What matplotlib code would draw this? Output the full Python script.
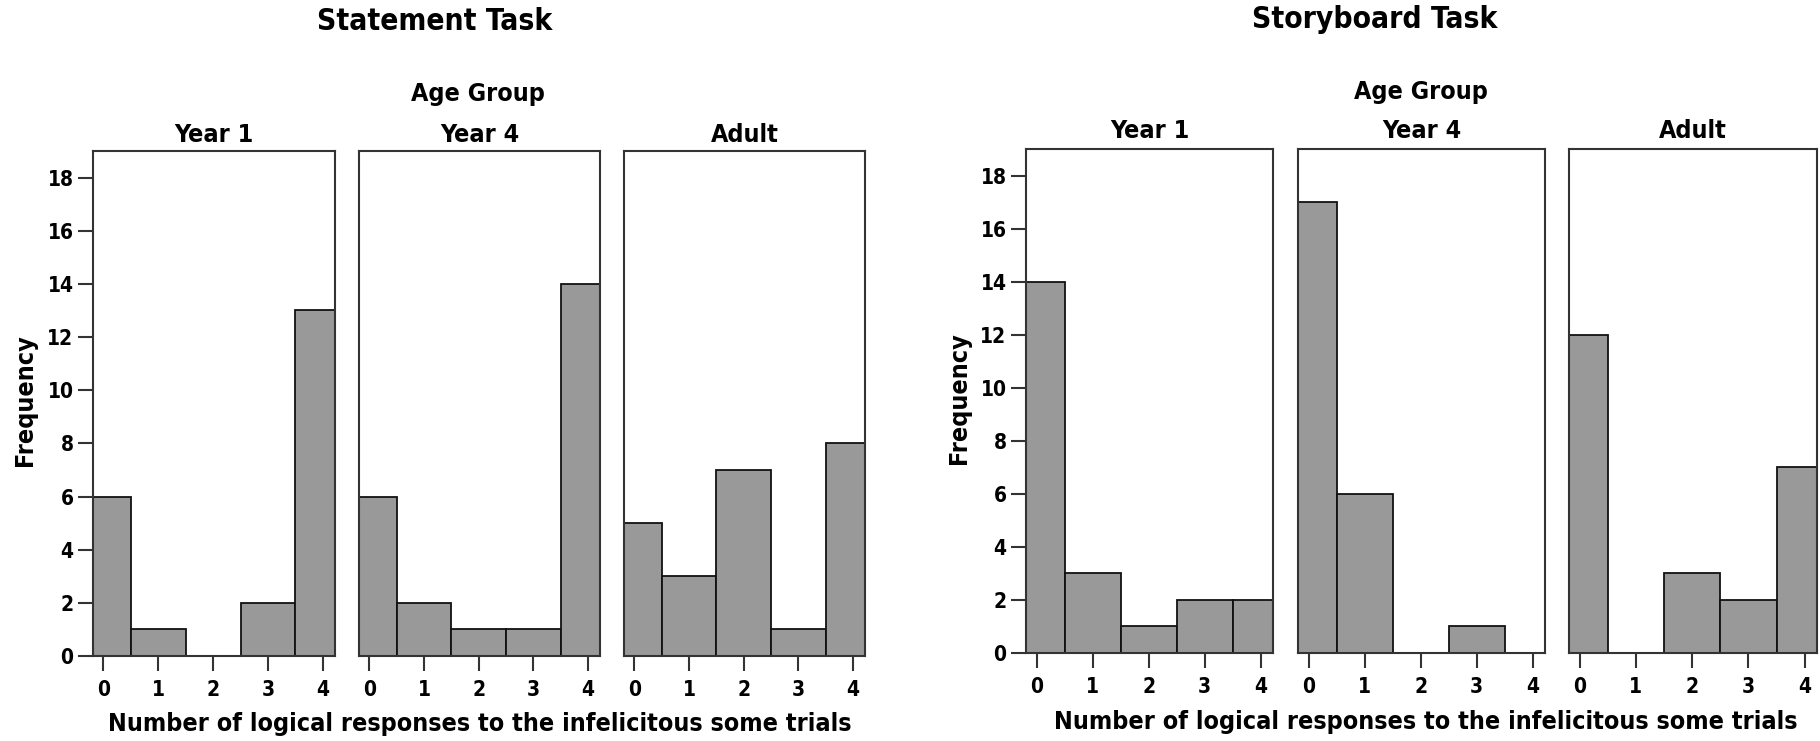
import numpy as np
import matplotlib
matplotlib.use("Agg")
from matplotlib import pyplot as plt

plt.rcParams["font.family"] = ["DejaVu Sans"]
plt.rcParams["font.weight"] = "bold"
plt.rcParams["font.stretch"] = "condensed"

responses = [0, 1, 2, 3, 4]
groups = ["Year 1", "Year 4", "Adult"]

statement_year1 = [6, 1, 0, 2, 13]
statement_year4 = [6, 2, 1, 1, 14]
statement_adult = [5, 3, 7, 1, 8]

storyboard_year1 = [14, 3, 1, 2, 2]
storyboard_year4 = [17, 6, 0, 1, 0]
storyboard_adult = [12, 0, 3, 2, 7]

y_ticks = list(range(0, 19, 2))

W, H = 1820, 741
fig = plt.figure(figsize=(W / 100, H / 100), dpi=100)


def px_axes(x0, x1, ytop, ybot):
    return fig.add_axes([x0 / W, 1 - ybot / H, (x1 - x0) / W, (ybot - ytop) / H])


def draw_task(title, title_xy, panels_x, ytop, ybot, counts, group_y, agegroup_xy,
              xlabel_xy, freq_xy):
    for i, ((x0, x1), vals, name) in enumerate(zip(panels_x, counts, groups)):
        ax = px_axes(x0, x1, ytop, ybot)
        ax.bar(responses, vals, width=1.0, color="#999999", edgecolor="#111111",
               linewidth=1.3, zorder=2)
        ax.set_xlim(-0.19, 4.22)
        ax.set_ylim(0, 19)
        ax.set_xticks(responses)
        ax.set_xticklabels([str(r) for r in responses], fontsize=15, fontweight="bold")
        ax.tick_params(axis="x", direction="out", length=11, width=1.5, pad=6,
                       color="#333333")
        if i == 0:
            ax.set_yticks(y_ticks)
            ax.set_yticklabels([str(t) for t in y_ticks], fontsize=15, fontweight="bold")
            ax.tick_params(axis="y", direction="out", length=11, width=1.5, pad=3,
                           color="#333333")
        else:
            ax.set_yticks([])
        for sp in ax.spines.values():
            sp.set_linewidth(1.5)
            sp.set_color("#333333")
        fig.text((x0 + x1) / 2 / W, 1 - group_y / H, name, ha="center", va="center",
                 fontsize=18, fontweight="bold")
    fig.text(title_xy[0] / W, 1 - title_xy[1] / H, title, ha="center", va="center",
             fontsize=21.5, fontweight="bold")
    fig.text(agegroup_xy[0] / W, 1 - agegroup_xy[1] / H, "Age Group", ha="center",
             va="center", fontsize=18, fontweight="bold")
    fig.text(xlabel_xy[0] / W, 1 - xlabel_xy[1] / H,
             "Number of logical responses to the infelicitous some trials",
             ha="center", va="center", fontsize=18, fontweight="bold")
    fig.text(freq_xy[0] / W, 1 - freq_xy[1] / H, "Frequency", ha="center", va="center",
             rotation=90, fontsize=18, fontweight="bold")


draw_task("Statement Task", (435, 21),
          [(93, 335), (359, 600), (624, 865)], 151, 656,
          [statement_year1, statement_year4, statement_adult],
          135, (478, 94), (480, 724), (25, 400))

draw_task("Storyboard Task", (1375, 19),
          [(1026, 1273), (1298, 1545), (1569, 1817)], 149, 653,
          [storyboard_year1, storyboard_year4, storyboard_adult],
          131, (1421, 92), (1426, 722), (959, 398))

fig.savefig("out.png", dpi=100)
